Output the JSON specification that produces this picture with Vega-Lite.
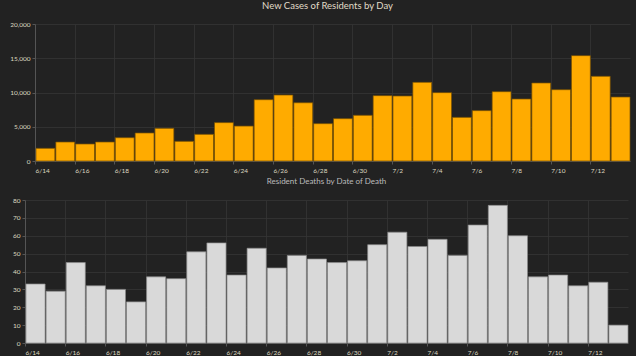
{
  "$schema": "https://vega.github.io/schema/vega-lite/v6.json",
  "background": "#222222",
  "padding": {"top": 0, "left": 0, "right": 5, "bottom": 0},
  "spacing": 4,
  "config": {
    "font": "Lato",
    "view": {"stroke": null},
    "axis": {
      "labelColor": "#ddd8c0",
      "labelFontSize": 6.5,
      "labelFont": "Lato",
      "domainColor": "#555555",
      "tickColor": "#555555",
      "tickSize": 3,
      "gridColor": "#353535",
      "gridWidth": 0.8,
      "title": null
    },
    "title": {"font": "Lato", "anchor": "middle", "fontWeight": "normal"}
  },
  "datasets": {
    "cases": [
      {"date": "2020-06-14", "cases": 1850},
      {"date": "2020-06-15", "cases": 2770},
      {"date": "2020-06-16", "cases": 2480},
      {"date": "2020-06-17", "cases": 2770},
      {"date": "2020-06-18", "cases": 3400},
      {"date": "2020-06-19", "cases": 4090},
      {"date": "2020-06-20", "cases": 4770},
      {"date": "2020-06-21", "cases": 2870},
      {"date": "2020-06-22", "cases": 3890},
      {"date": "2020-06-23", "cases": 5600},
      {"date": "2020-06-24", "cases": 5100},
      {"date": "2020-06-25", "cases": 8950},
      {"date": "2020-06-26", "cases": 9630},
      {"date": "2020-06-27", "cases": 8500},
      {"date": "2020-06-28", "cases": 5450},
      {"date": "2020-06-29", "cases": 6180},
      {"date": "2020-06-30", "cases": 6670},
      {"date": "2020-07-01", "cases": 9540},
      {"date": "2020-07-02", "cases": 9490},
      {"date": "2020-07-03", "cases": 11480},
      {"date": "2020-07-04", "cases": 9980},
      {"date": "2020-07-05", "cases": 6370},
      {"date": "2020-07-06", "cases": 7350},
      {"date": "2020-07-07", "cases": 10120},
      {"date": "2020-07-08", "cases": 9050},
      {"date": "2020-07-09", "cases": 11390},
      {"date": "2020-07-10", "cases": 10410},
      {"date": "2020-07-11", "cases": 15380},
      {"date": "2020-07-12", "cases": 12360},
      {"date": "2020-07-13", "cases": 9340}
    ],
    "deaths": [
      {"date": "2020-06-14", "deaths": 33},
      {"date": "2020-06-15", "deaths": 29},
      {"date": "2020-06-16", "deaths": 45},
      {"date": "2020-06-17", "deaths": 32},
      {"date": "2020-06-18", "deaths": 30},
      {"date": "2020-06-19", "deaths": 23},
      {"date": "2020-06-20", "deaths": 37},
      {"date": "2020-06-21", "deaths": 36},
      {"date": "2020-06-22", "deaths": 51},
      {"date": "2020-06-23", "deaths": 56},
      {"date": "2020-06-24", "deaths": 38},
      {"date": "2020-06-25", "deaths": 53},
      {"date": "2020-06-26", "deaths": 42},
      {"date": "2020-06-27", "deaths": 49},
      {"date": "2020-06-28", "deaths": 47},
      {"date": "2020-06-29", "deaths": 45},
      {"date": "2020-06-30", "deaths": 46},
      {"date": "2020-07-01", "deaths": 55},
      {"date": "2020-07-02", "deaths": 62},
      {"date": "2020-07-03", "deaths": 54},
      {"date": "2020-07-04", "deaths": 58},
      {"date": "2020-07-05", "deaths": 49},
      {"date": "2020-07-06", "deaths": 66},
      {"date": "2020-07-07", "deaths": 77},
      {"date": "2020-07-08", "deaths": 60},
      {"date": "2020-07-09", "deaths": 37},
      {"date": "2020-07-10", "deaths": 38},
      {"date": "2020-07-11", "deaths": 32},
      {"date": "2020-07-12", "deaths": 34},
      {"date": "2020-07-13", "deaths": 10}
    ]
  },
  "vconcat": [
    {
      "width": 605,
      "height": 137,
      "title": {"text": "New Cases of Residents by Day", "fontSize": 9.5, "color": "#e0dcc8", "offset": 11},
      "data": {"name": "cases"},
      "mark": {"type": "bar", "color": "#ffab00", "stroke": "#7a5200", "strokeWidth": 0.7, "timeUnitBandSize": 0.82},
      "encoding": {
        "x": {
          "field": "date", "type": "temporal", "timeUnit": "utcyearmonthdate",
          "scale": {"range": [10, 605], "domain": [{"utc": true, "year": 2020, "month": 6, "date": 14}, {"utc": true, "year": 2020, "month": 7, "date": 14}]},
          "axis": {
            "labelExpr": "utcFormat(datum.value, '%-m/%-d')", "labelAlign": "left", "labelPadding": 3,
            "values": [
              {"utc": true, "year": 2020, "month": 6, "date": 14},
              {"utc": true, "year": 2020, "month": 6, "date": 16},
              {"utc": true, "year": 2020, "month": 6, "date": 18},
              {"utc": true, "year": 2020, "month": 6, "date": 20},
              {"utc": true, "year": 2020, "month": 6, "date": 22},
              {"utc": true, "year": 2020, "month": 6, "date": 24},
              {"utc": true, "year": 2020, "month": 6, "date": 26},
              {"utc": true, "year": 2020, "month": 6, "date": 28},
              {"utc": true, "year": 2020, "month": 6, "date": 30},
              {"utc": true, "year": 2020, "month": 7, "date": 2},
              {"utc": true, "year": 2020, "month": 7, "date": 4},
              {"utc": true, "year": 2020, "month": 7, "date": 6},
              {"utc": true, "year": 2020, "month": 7, "date": 8},
              {"utc": true, "year": 2020, "month": 7, "date": 10},
              {"utc": true, "year": 2020, "month": 7, "date": 12}
            ]
          }
        },
        "y": {
          "field": "cases", "type": "quantitative",
          "scale": {"domain": [0, 20000]},
          "axis": {"values": [0, 5000, 10000, 15000, 20000], "labelExpr": "format(datum.value, ',')", "labelPadding": 2, "offset": -10}
        }
      }
    },
    {
      "width": 603,
      "height": 143,
      "title": {"text": "Resident Deaths by Date of Death", "fontSize": 8, "color": "#bbbbbb", "offset": 11},
      "data": {"name": "deaths"},
      "mark": {"type": "bar", "color": "#d9d9d9", "stroke": "#8a8a8a", "strokeWidth": 0.7, "timeUnitBandSize": 0.82},
      "encoding": {
        "x": {
          "field": "date", "type": "temporal", "timeUnit": "utcyearmonthdate",
          "scale": {"domain": [{"utc": true, "year": 2020, "month": 6, "date": 14}, {"utc": true, "year": 2020, "month": 7, "date": 14}]},
          "axis": {
            "labelExpr": "utcFormat(datum.value, '%-m/%-d')", "labelAlign": "left", "labelPadding": 3,
            "values": [
              {"utc": true, "year": 2020, "month": 6, "date": 14},
              {"utc": true, "year": 2020, "month": 6, "date": 16},
              {"utc": true, "year": 2020, "month": 6, "date": 18},
              {"utc": true, "year": 2020, "month": 6, "date": 20},
              {"utc": true, "year": 2020, "month": 6, "date": 22},
              {"utc": true, "year": 2020, "month": 6, "date": 24},
              {"utc": true, "year": 2020, "month": 6, "date": 26},
              {"utc": true, "year": 2020, "month": 6, "date": 28},
              {"utc": true, "year": 2020, "month": 6, "date": 30},
              {"utc": true, "year": 2020, "month": 7, "date": 2},
              {"utc": true, "year": 2020, "month": 7, "date": 4},
              {"utc": true, "year": 2020, "month": 7, "date": 6},
              {"utc": true, "year": 2020, "month": 7, "date": 8},
              {"utc": true, "year": 2020, "month": 7, "date": 10},
              {"utc": true, "year": 2020, "month": 7, "date": 12}
            ]
          }
        },
        "y": {
          "field": "deaths", "type": "quantitative",
          "scale": {"domain": [0, 80]},
          "axis": {"values": [0, 10, 20, 30, 40, 50, 60, 70, 80], "labelPadding": 2, "minExtent": 25}
        }
      }
    }
  ]
}
